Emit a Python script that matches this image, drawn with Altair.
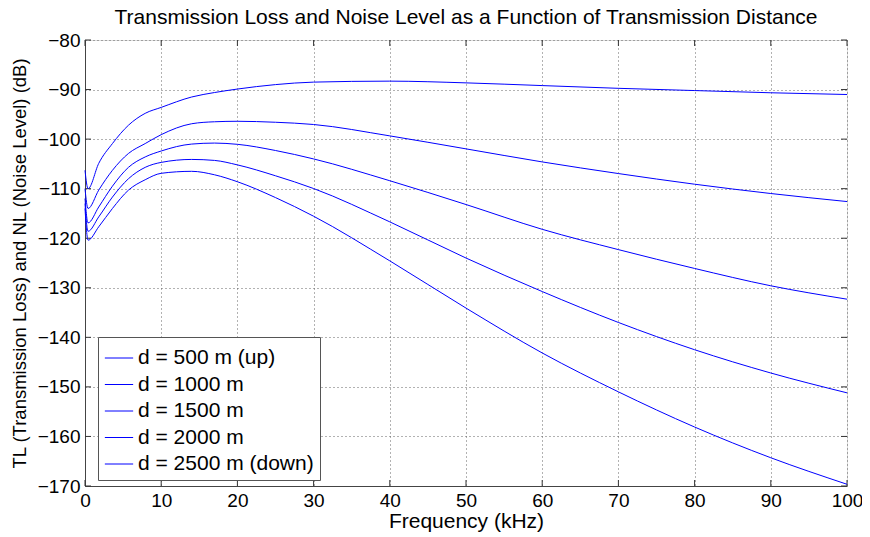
import altair as alt
import pandas as pd

freq = [0, 0.4, 1.8, 3.6, 5.7, 7.9, 10, 14, 17, 20, 25, 30, 40, 50, 60, 70, 80, 90, 100]
d500 = [-106.3, -110.0, -104.9, -100.9, -97.2, -94.8, -93.6, -91.5, -90.6, -89.9, -89.0, -88.5, -88.3, -88.65, -89.2, -89.75, -90.2, -90.65, -91.0]
d1000 = [-110.0, -114.0, -110.3, -106.3, -102.9, -100.9, -99.1, -96.9, -96.5, -96.4, -96.6, -97.05, -99.35, -101.97, -104.6, -106.95, -109.1, -110.98, -112.6]
d1500 = [-112.0, -116.9, -113.7, -109.5, -105.7, -103.6, -102.4, -101.0, -100.8, -101.05, -102.3, -104.0, -108.4, -113.2, -118.2, -122.3, -126.1, -129.6, -132.3]
d2000 = [-113.0, -118.6, -115.7, -111.7, -108.0, -105.7, -104.7, -104.1, -104.3, -105.2, -107.4, -109.97, -116.7, -124.0, -130.76, -137.0, -142.5, -147.2, -151.2]
d2500 = [-114.0, -120.4, -117.7, -114.0, -110.3, -108.2, -106.9, -106.5, -107.2, -108.6, -111.8, -115.56, -124.57, -134.1, -143.15, -151.0, -158.1, -164.3, -169.65]

series_names = ["d = 500 m (up)", "d = 1000 m", "d = 1500 m", "d = 2000 m", "d = 2500 m (down)"]
series_values = [d500, d1000, d1500, d2000, d2500]

x_ticks = [0, 10, 20, 30, 40, 50, 60, 70, 80, 90, 100]
y_ticks = [-80, -90, -100, -110, -120, -130, -140, -150, -160, -170]

rows = []
for name, vals in zip(series_names, series_values):
    for f, v in zip(freq, vals):
        rows.append({"f": f, "v": v, "series": name})
df = pd.DataFrame(rows)

W, H = 762, 446
FONT = "Liberation Sans"

xscale = alt.Scale(domain=[0, 100], nice=False, zero=False)
yscale = alt.Scale(domain=[-170, -80], nice=False, zero=False)

lines = alt.Chart(df).mark_line(strokeWidth=1, interpolate="monotone").encode(
    x=alt.X("f:Q", scale=xscale,
            axis=alt.Axis(values=x_ticks, title="Frequency (kHz)", grid=True,
                          gridDash=[1, 3], gridColor="#555", gridOpacity=0.9,
                          ticks=False, labelPadding=5, labelFontSize=19, labelFont=FONT,
                          labelColor="#000", titleFont=FONT, titleFontSize=21,
                          titleFontWeight="normal", titleColor="#000",
                          titleX=W / 2, titleY=35, titleBaseline="middle",
                          domainColor="#444", labelFlush=False)),
    y=alt.Y("v:Q", scale=yscale,
            axis=alt.Axis(values=y_ticks, title="TL (Transmission Loss) and NL (Noise Level) (dB)",
                          grid=True, gridDash=[1, 3], gridColor="#555", gridOpacity=0.9,
                          ticks=False, labelPadding=5, labelFontSize=19, labelFont=FONT,
                          labelColor="#000", titleFont=FONT, titleFontSize=18.5,
                          titleFontWeight="normal", titleColor="#000",
                          titleX=-66, titleY=H / 2, titleAngle=-90, titleBaseline="middle",
                          titleAlign="center", domainColor="#444", labelFlush=False)),
    color=alt.Color("series:N", sort=series_names,
                    scale=alt.Scale(domain=series_names, range=["#0000ff"] * 5),
                    legend=alt.Legend(title=None, orient="none", legendX=13, legendY=297,
                                      symbolType="stroke", symbolSize=800, symbolStrokeWidth=1,
                                      labelFontSize=21, labelFont=FONT, labelColor="#000",
                                      rowPadding=1.5, padding=6, strokeColor="#555",
                                      fillColor="#fff", labelOffset=4, labelLimit=400)),
    detail="series:N",
)

xt = pd.DataFrame({"t": x_ticks})
yt = pd.DataFrame({"t": y_ticks})
tick_col = "#333"
bt = alt.Chart(xt).mark_rule(color=tick_col, strokeWidth=1).encode(
    x=alt.X("t:Q", scale=xscale), y=alt.value(H - 6), y2=alt.value(H))
tt = alt.Chart(xt).mark_rule(color=tick_col, strokeWidth=1).encode(
    x=alt.X("t:Q", scale=xscale), y=alt.value(0), y2=alt.value(6))
lt = alt.Chart(yt).mark_rule(color=tick_col, strokeWidth=1).encode(
    y=alt.Y("t:Q", scale=yscale), x=alt.value(0), x2=alt.value(6))
rt = alt.Chart(yt).mark_rule(color=tick_col, strokeWidth=1).encode(
    y=alt.Y("t:Q", scale=yscale), x=alt.value(W - 6), x2=alt.value(W))

chart = alt.layer(bt, tt, lt, rt, lines).properties(
    width=W, height=H,
    autosize=alt.AutoSizeParams(type="none"),
    padding={"left": 77, "top": 32, "right": 15, "bottom": 48},
    title=alt.Title("Transmission Loss and Noise Level as a Function of Transmission Distance",
                    font=FONT, fontSize=21, fontWeight="normal", color="#000",
                    anchor="middle", frame="group", offset=3),
).configure_view(stroke="#444", strokeWidth=1).configure(background="#fff")

chart.save("out.html", embed_options={"renderer": "svg", "actions": False})
